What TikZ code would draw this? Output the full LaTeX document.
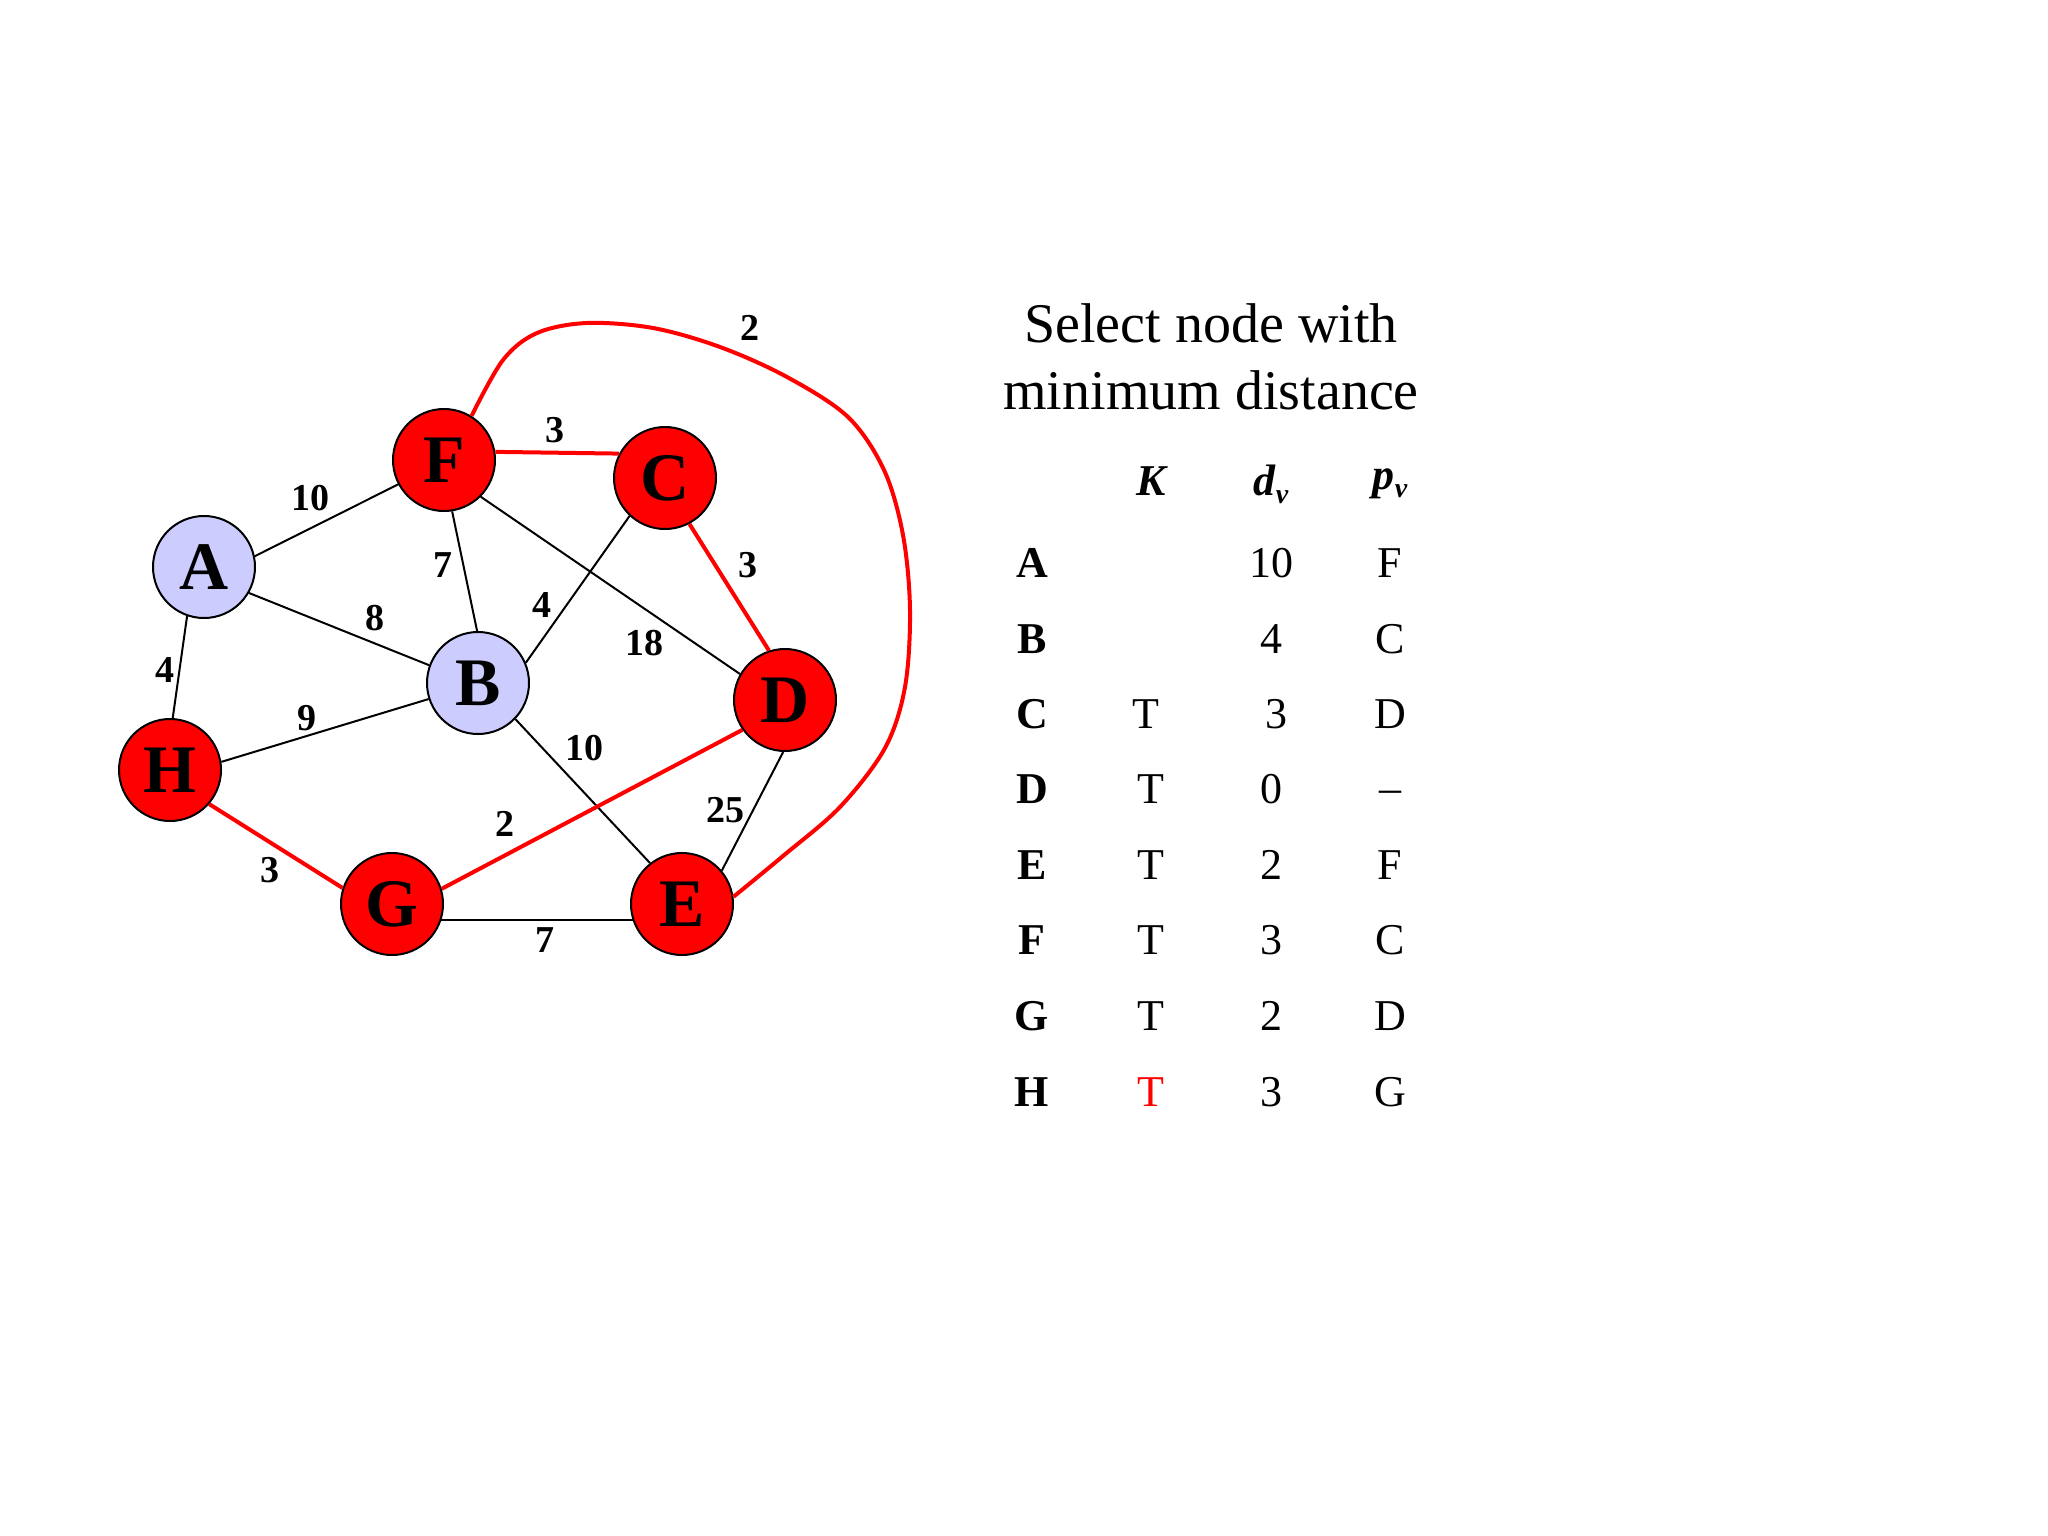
\documentclass[tikz,border=0pt]{standalone}
\usepackage{fontspec}
\setmainfont{Liberation Serif}
\definecolor{lav}{RGB}{204,204,255}
\tikzset{
  vtx/.style={circle, draw=black, line width=2pt, minimum size=102pt, inner sep=0pt,
              font=\fontsize{68}{68}\selectfont\bfseries},
  redv/.style={vtx, fill=red},
  bluev/.style={vtx, fill=lav},
  blk/.style={draw=black, line width=2pt},
  rede/.style={draw=red, line width=4pt},
  wlab/.style={font=\fontsize{38}{38}\selectfont\bfseries, inner sep=0pt},
  ttl/.style={font=\fontsize{56}{56}\selectfont, inner sep=0pt},
  hd/.style={font=\fontsize{44}{44}\selectfont\bfseries\itshape, inner sep=0pt},
  rl/.style={font=\fontsize{44}{44}\selectfont\bfseries, inner sep=0pt},
  cell/.style={font=\fontsize{44}{44}\selectfont, inner sep=0pt},
}
\begin{document}
\begin{tikzpicture}[x=1pt,y=-1pt]
\useasboundingbox[fill=white] (0,0) rectangle (2048,1536);
% vertices
\node[bluev] (A) at (204,567) {A};
\node[redv]  (F) at (444,460) {F};
\node[redv]  (C) at (665,478) {C};
\node[bluev] (B) at (478,683) {B};
\node[redv]  (D) at (785,700) {D};
\node[redv]  (H) at (170,770) {H};
\node[redv]  (G) at (392,904) {G};
\node[redv]  (E) at (682,904) {E};
% black edges
\draw[blk] (A.12) -- (F.208);
\draw[blk] (A.-30) -- (B.160);
\draw[blk] (A.251) -- (H.87);
\draw[blk] (F.279) -- (B.91);
\draw[blk] (F.-45) -- (D.150);
\draw[blk] (C.227) -- (B.23);
\draw[blk] (H.9) -- (B.198);
\draw[blk] (B.-44) -- (E.128);
\draw[blk] (D.268) -- (E.40);
\draw[blk] (G.-18) -- (E.198);
% red edges
\draw[rede] (F.9) -- (C.152);
\draw[rede] (C.-62) -- (D.108);
\draw[rede] (H.-41) -- (G.162);
\draw[rede] (G.17) -- (D.215);
\draw[rede] plot[smooth, tension=0.55] coordinates {(F.58) (503,360) (537,333) (587,323) (653,328) (720,347) (787,377) (848,417) (884,470) (903,535) (910,610) (905,687) (885,748) (840,807) (783,856) (E.8)};
% edge weights
\node[wlab] (w1) at (310,498) {10};
\node[wlab] (w2) at (555,430) {3};
\node[wlab] (w3) at (443,565) {7};
\node[wlab] (w4) at (375,618) {8};
\node[wlab] (w5) at (542,605) {4};
\node[wlab] (w6) at (644,643) {18};
\node[wlab] (w7) at (748,565) {3};
\node[wlab] (w8) at (165,670) {4};
\node[wlab] (w9) at (307,718) {9};
\node[wlab] (w10) at (584,748) {10};
\node[wlab] (w11) at (505,824) {2};
\node[wlab] (w12) at (725,810) {25};
\node[wlab] (w13) at (270,870) {3};
\node[wlab] (w14) at (545,940) {7};
\node[wlab] (w15) at (750,328) {2};
% title
\node[ttl] (t1) at (1211,323) {Select node with};
\node[ttl] (t2) at (1211,390) {minimum distance};
% table header
\node[hd] (hK) at (1151,481) {K};
\node[hd] (hd) at (1271,484) {d\raisebox{-0.4ex}{\fontsize{28}{28}\selectfont v}};
\node[hd] (hp) at (1390,484) {p\raisebox{-0.4ex}{\fontsize{28}{28}\selectfont v}};
% rows
\node[rl] (rA) at (1032,563) {A};
\node[rl] (rB) at (1032,639) {B};
\node[rl] (rC) at (1032,714) {C};
\node[rl] (rD) at (1032,789) {D};
\node[rl] (rE) at (1032,865) {E};
\node[rl] (rF) at (1032,940) {F};
\node[rl] (rG) at (1032,1016) {G};
\node[rl] (rH) at (1032,1092) {H};
% K column
\node[cell] (kC) at (1146,714) {T};
\node[cell] (kD) at (1151,789) {T};
\node[cell] (kE) at (1151,865) {T};
\node[cell] (kF) at (1151,940) {T};
\node[cell] (kG) at (1151,1016) {T};
\node[cell, text=red] (kH) at (1151,1092) {T};
% d column
\node[cell] (dA) at (1271,563) {10};
\node[cell] (dB) at (1271,639) {4};
\node[cell] (dC) at (1276,714) {3};
\node[cell] (dD) at (1271,789) {0};
\node[cell] (dE) at (1271,865) {2};
\node[cell] (dF) at (1271,940) {3};
\node[cell] (dG) at (1271,1016) {2};
\node[cell] (dH) at (1271,1092) {3};
% p column
\node[cell] (pA) at (1390,563) {F};
\node[cell] (pB) at (1390,639) {C};
\node[cell] (pC) at (1390,714) {D};
\node[cell] (pD) at (1390,797) {--};
\node[cell] (pE) at (1390,865) {F};
\node[cell] (pF) at (1390,940) {C};
\node[cell] (pG) at (1390,1016) {D};
\node[cell] (pH) at (1390,1092) {G};
\end{tikzpicture}
\end{document}
